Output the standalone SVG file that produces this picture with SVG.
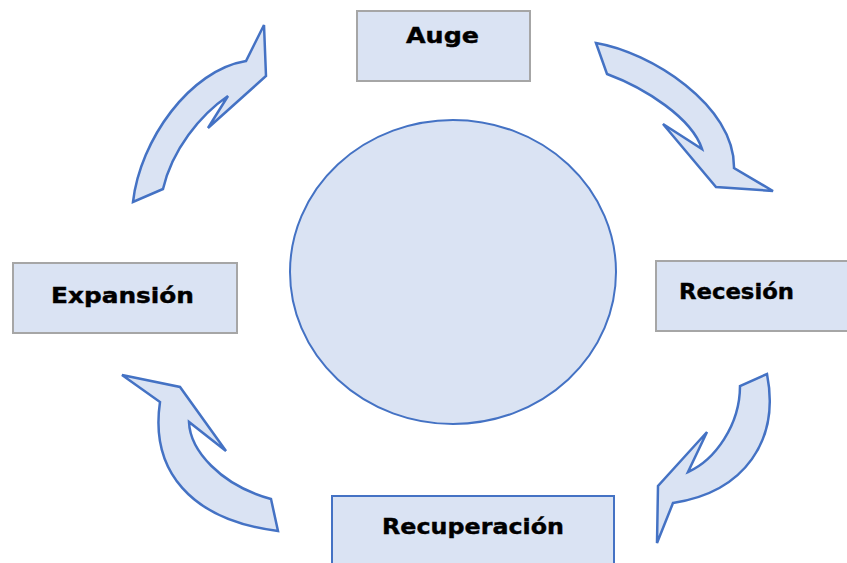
<svg xmlns="http://www.w3.org/2000/svg" width="847" height="563" viewBox="0 0 847 563">
<style>
.box{fill:#DAE3F3;stroke:#A6A6A6;stroke-width:2}
.boxb{fill:#DAE3F3;stroke:#4472C4;stroke-width:2}
.arr{fill:#DAE3F3;stroke:#4472C4;stroke-width:2.5;stroke-linejoin:miter}
.lbl{font-family:"DejaVu Sans","Liberation Sans",sans-serif;font-weight:bold;font-size:22px;fill:#000;stroke:#000;stroke-width:0.4}
</style>
<rect width="847" height="563" fill="#fff"/>
<g id="center"><ellipse cx="453" cy="272" rx="163" ry="152" fill="#DAE3F3" stroke="#4472C4" stroke-width="2"/></g>
<g id="auge"><rect class="box" x="357" y="11" width="173" height="70"/><text class="lbl" x="406" y="43" textLength="73" lengthAdjust="spacingAndGlyphs">Auge</text></g>
<g id="expansion"><rect class="box" x="13" y="263" width="224" height="70"/><text class="lbl" x="51" y="303" textLength="143" lengthAdjust="spacingAndGlyphs">Expansión</text></g>
<g id="recesion"><rect class="box" x="656" y="261" width="200" height="70"/><text class="lbl" x="679" y="299" textLength="115" lengthAdjust="spacingAndGlyphs">Recesión</text></g>
<g id="recuperacion"><rect class="boxb" x="332" y="496" width="282" height="80"/><text class="lbl" x="382" y="534" textLength="182" lengthAdjust="spacingAndGlyphs">Recuperación</text></g>
<g id="connectors">
<path class="arr" d="M133,202 C140,140 190,70 246,61 L264,25 L266,76 L208,128 L228,96 C200,115 172,150 163,189 Z"/>
<path class="arr" d="M596,43 C650,52 735,105 734,168 L773,191 L716,187 L663,124 L702,149 C692,118 645,88 607,74 Z"/>
<path class="arr" d="M767,374 C780,440 745,492 673,503 L657,543 L658,486 L707,432 L688,472 C715,460 740,425 740,386 Z"/>
<path class="arr" d="M122,375 L180,387 L226,451 L189,422 C190,450 220,485 271,499 L278,531 C190,520 150,470 160,402 Z"/>
</g>
</svg>
